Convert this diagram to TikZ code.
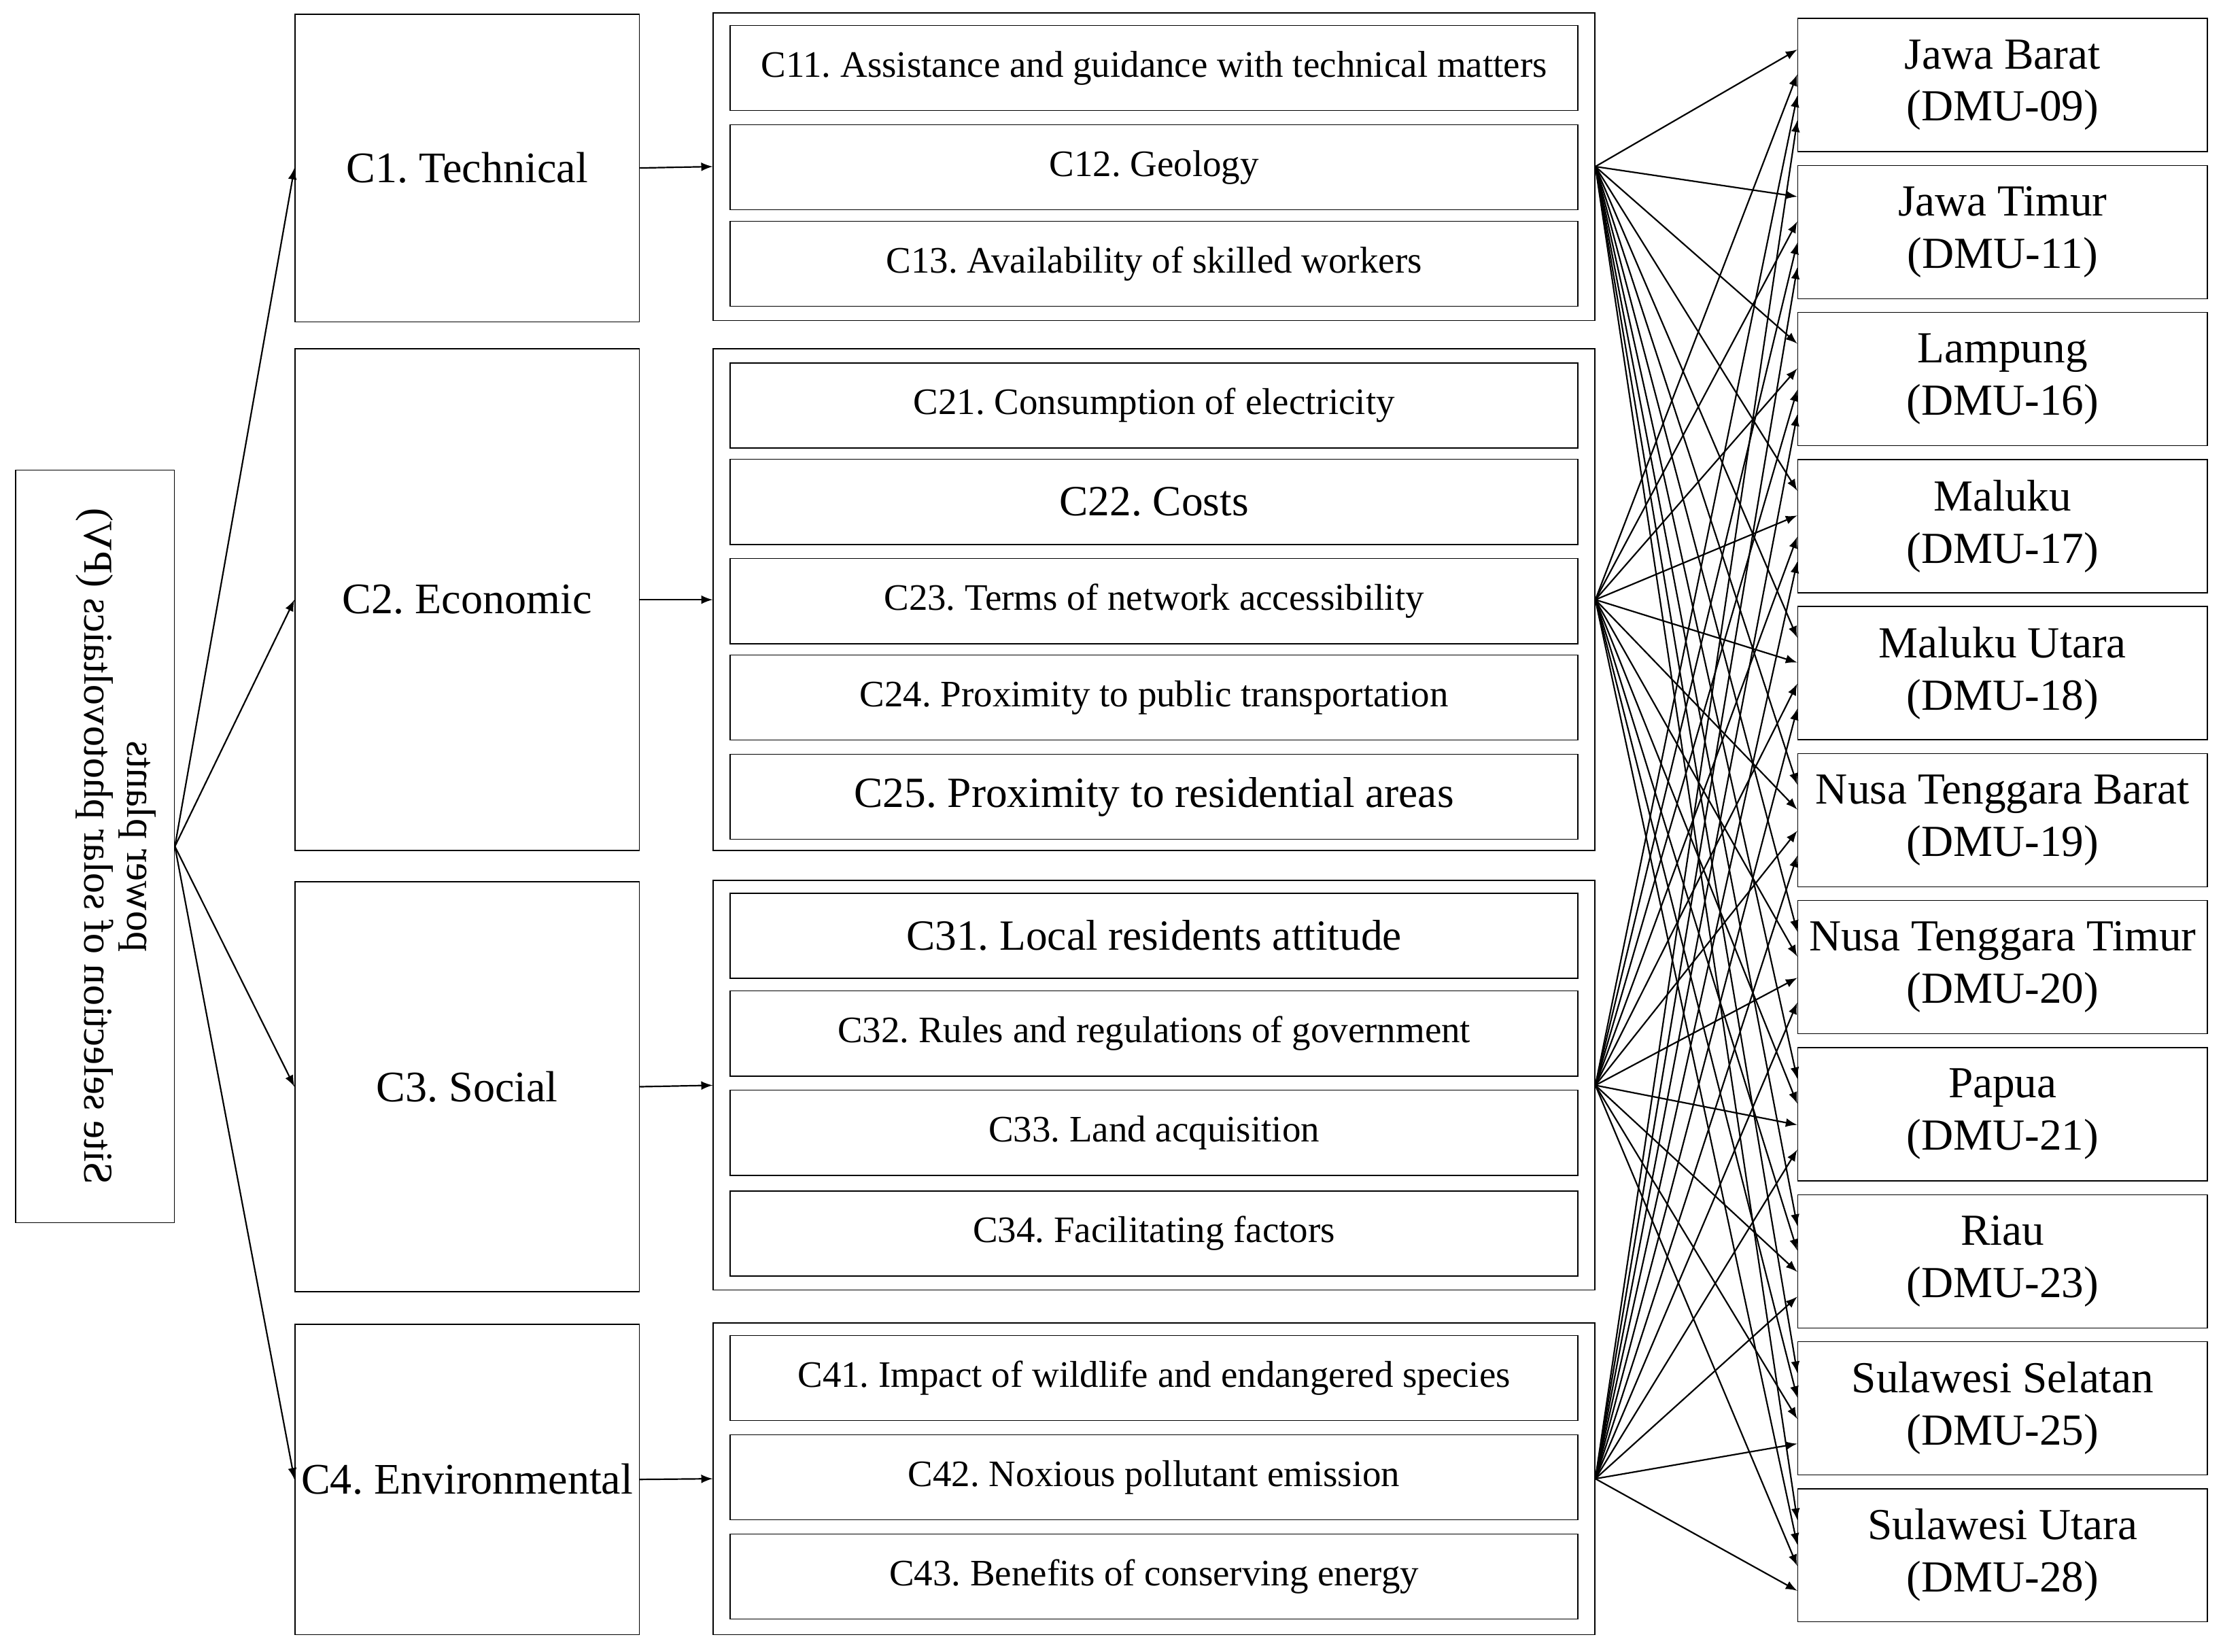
\documentclass[tikz,border=0pt]{standalone}
\usepackage{fontspec}
\setmainfont{Liberation Serif}
\frenchspacing
\begin{document}
\begin{tikzpicture}[x=0.02cm,y=-0.02cm,
    box/.style={draw, thin, inner sep=0pt},
    item/.style={box, minimum width=11.96cm, minimum height=1.2cm, font=\fontsize{15}{18}\selectfont},
    bigitem/.style={item, font=\fontsize{17.3}{20}\selectfont},
    crit/.style={box, minimum width=4.86cm, font=\fontsize{17.5}{20}\selectfont},
    dmu/.style={box, minimum width=5.78cm, minimum height=1.88cm, align=center, font=\fontsize{17.8}{21}\selectfont},
    flip/.style={rotate=-90, xscale=-1, font=\fontsize{16.5}{20}\selectfont},
    arr/.style={-latex, semithick}]
    \useasboundingbox (0,0) rectangle (1568,1165);

    % Root
    \node[box, minimum width=2.24cm, minimum height=10.62cm] (root) at (67,597) {};
    \node[flip] (rootA) at (67,597) {Site selection of solar photovoltaics (PV)};
    \node[flip] (rootB) at (97,597) {power plants};

    % Criteria
    \node[crit, minimum height=4.34cm] (c1) at (329.5,118.5) {C1. Technical};
    \node[crit, minimum height=7.08cm] (c2) at (329.5,423) {C2. Economic};
    \node[crit, minimum height=5.78cm] (c3) at (329.5,766.5) {C3. Social};
    \node[crit, minimum height=4.38cm] (c4) at (329.5,1043.5) {C4. Environmental};

    % Groups
    \node[box, minimum width=12.44cm, minimum height=4.34cm] (g1) at (814,117.5) {};
    \node[box, minimum width=12.44cm, minimum height=7.08cm] (g2) at (814,423) {};
    \node[box, minimum width=12.44cm, minimum height=5.78cm] (g3) at (814,765.5) {};
    \node[box, minimum width=12.44cm, minimum height=4.4cm] (g4) at (814,1043) {};

    % Sub-criteria
    \node[item] (c11) at (814,48) {C11. Assistance and guidance with technical matters};
    \node[item] (c12) at (814,118) {C12. Geology};
    \node[item] (c13) at (814,186) {C13. Availability of skilled workers};
    \node[item] (c21) at (814,286) {C21. Consumption of electricity};
    \node[bigitem] (c22) at (814,354) {C22. Costs};
    \node[item] (c23) at (814,424) {C23. Terms of network accessibility};
    \node[item] (c24) at (814,492) {C24. Proximity to public transportation};
    \node[bigitem] (c25) at (814,562) {C25. Proximity to residential areas};
    \node[bigitem] (c31) at (814,660) {C31. Local residents attitude};
    \node[item] (c32) at (814,729) {C32. Rules and regulations of government};
    \node[item] (c33) at (814,799) {C33. Land acquisition};
    \node[item] (c34) at (814,870) {C34. Facilitating factors};
    \node[item] (c41) at (814,972) {C41. Impact of wildlife and endangered species};
    \node[item] (c42) at (814,1042) {C42. Noxious pollutant emission};
    \node[item] (c43) at (814,1112) {C43. Benefits of conserving energy};

    % Alternatives
    \foreach \n/\t/\d [count=\i from 0] in {1/Jawa Barat/09, 2/Jawa Timur/11, 3/Lampung/16, 4/Maluku/17, 5/Maluku Utara/18, 6/Nusa Tenggara Barat/19, 7/Nusa Tenggara Timur/20, 8/Papua/21, 9/Riau/23, 10/Sulawesi Selatan/25, 11/Sulawesi Utara/28}
        \node[dmu] (d\n) at (1412.5,{60+103.7*\i}) {\t\\(DMU-\d)};

    % Arrows
    \foreach \c in {1,...,4} {
        \draw[arr] (root.east) -- (c\c.west);
        \draw[arr] (c\c.east) -- (g\c.west);
    }
    \foreach \g/\o in {1/-0.5, 2/-0.15, 3/0.15, 4/0.5}
        \foreach \n in {1,...,11}
            \draw[arr] (g\g.east) -- ([yshift=-\o cm]d\n.west);
\end{tikzpicture}
\end{document}
